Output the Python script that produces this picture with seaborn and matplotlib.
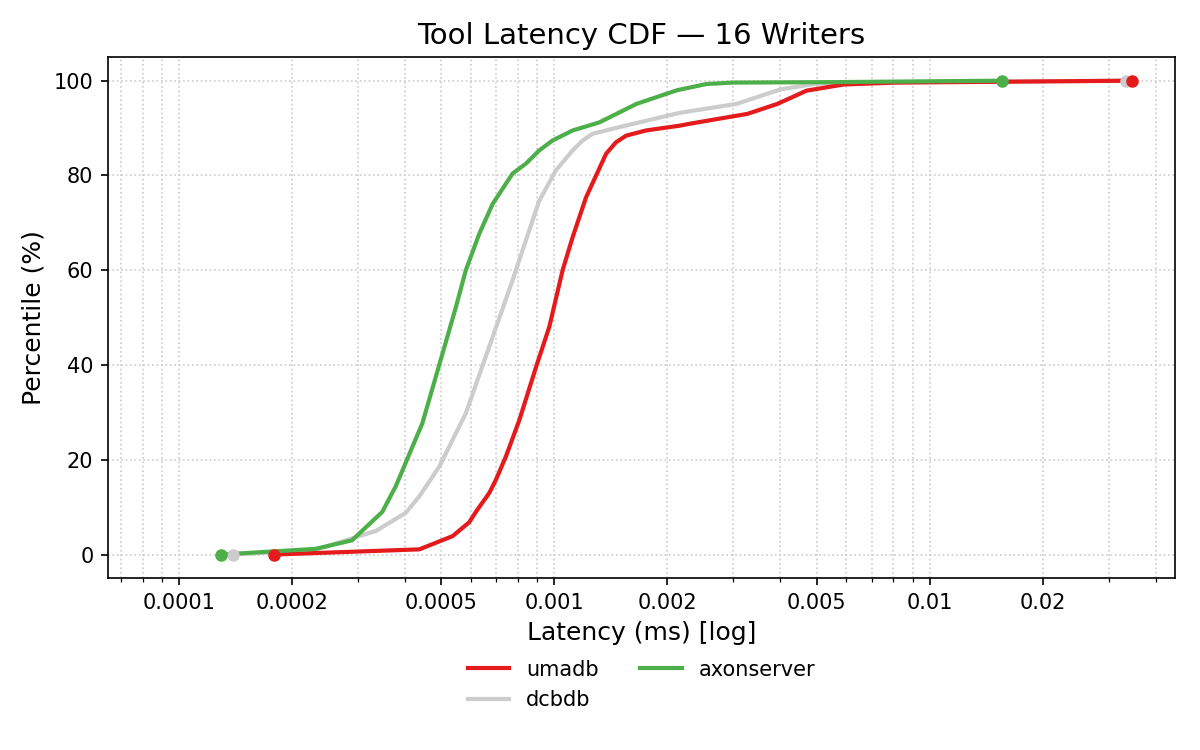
import numpy as np
import pandas as pd
import seaborn as sns
import matplotlib
matplotlib.use("Agg")
import matplotlib.pyplot as plt
from matplotlib.ticker import FixedLocator, FixedFormatter, LogLocator, NullFormatter
from matplotlib.lines import Line2D

# latency (ms) vs percentile
umadb_ms = [0.000179, 0.000437, 0.000536, 0.000593, 0.000619, 0.000671, 0.000699,
            0.000743, 0.000807, 0.000894, 0.00097, 0.001052, 0.001119, 0.001215,
            0.001374, 0.00146, 0.001553, 0.001756, 0.002154, 0.002328, 0.00327,
            0.003927, 0.0047, 0.0059, 0.00811, 0.0346]
umadb_pct = [0, 1.1, 3.9, 6.8, 9.1, 13, 15.8, 20.7, 28.4, 39.6, 48.1, 60, 67, 75.4,
             84.6, 87.0, 88.4, 89.5, 90.5, 91.0, 93.0, 95.1, 97.9, 99.2, 99.6, 100]

dcbdb_ms = [0.0001393, 0.000231, 0.000256, 0.000335, 0.000402, 0.000437, 0.000494,
            0.000581, 0.000671, 0.000774, 0.00084, 0.000912, 0.00101, 0.001119,
            0.00119, 0.001265, 0.00149, 0.002154, 0.003057, 0.004018, 0.004935,
            0.0059, 0.0333]
dcbdb_pct = [0, 1.0, 2.1, 5.0, 8.8, 12.3, 18.6, 29.8, 43.9, 57.9, 66.3, 74.7, 81.1,
             85.3, 87.4, 88.8, 90.2, 93.2, 95.1, 98.2, 99.3, 99.6, 100]

axon_ms = [0.0001294, 0.000231, 0.000289, 0.000348, 0.000378, 0.000445, 0.000504,
           0.000547, 0.000581, 0.000631, 0.000685, 0.000774, 0.00084, 0.000912,
           0.00099, 0.001119, 0.001318, 0.001655, 0.002126, 0.002543, 0.002983,
           0.0056, 0.0156]
axon_pct = [0, 1.2, 3.0, 9.0, 14.4, 27.7, 42.5, 52.3, 60, 67.7, 74, 80.4, 82.5,
            85.3, 87.4, 89.5, 91.2, 95.1, 98.0, 99.3, 99.6, 99.7, 100]

tools = ["umadb", "dcbdb", "axonserver"]
colors = {"umadb": "#e41a1c", "dcbdb": "#cccccc", "axonserver": "#4daf4a"}
draw_order = ["dcbdb", "umadb", "axonserver"]

tick_vals = [0.0001, 0.0002, 0.0005, 0.001, 0.002, 0.005, 0.01, 0.02]
tick_labels = ["0.0001", "0.0002", "0.0005", "0.001", "0.002", "0.005", "0.01", "0.02"]

df = pd.concat([
    pd.DataFrame({"tool": "umadb", "ms": umadb_ms, "pct": umadb_pct}),
    pd.DataFrame({"tool": "dcbdb", "ms": dcbdb_ms, "pct": dcbdb_pct}),
    pd.DataFrame({"tool": "axonserver", "ms": axon_ms, "pct": axon_pct}),
], ignore_index=True)

fig, ax = plt.subplots(figsize=(8, 5), dpi=150)
fig.subplots_adjust(left=0.09, right=0.979, top=0.924, bottom=0.229)

for t in draw_order:
    d = df[df.tool == t]
    sns.lineplot(data=d, x="ms", y="pct", color=colors[t], lw=2.0, ax=ax,
                 sort=False, estimator=None)
    ends = d.iloc[[0, -1]]
    ax.plot(ends.ms, ends.pct, "o", color=colors[t], ms=5, zorder=3)

ax.set_xscale("log")
ax.set_xlim(df.ms.min() * 0.5, df.ms.max() * 1.3)
ax.set_ylim(-5, 105)
ax.xaxis.set_major_locator(FixedLocator(tick_vals))
ax.xaxis.set_major_formatter(FixedFormatter(tick_labels))
ax.xaxis.set_minor_locator(LogLocator(base=10, subs=np.arange(2, 10)))
ax.xaxis.set_minor_formatter(NullFormatter())
ax.tick_params(labelsize=10)
ax.grid(True, which="both", linestyle=":", color="#cccccc", lw=0.8)

ax.set_title("Tool Latency CDF \u2014 16 Writers", fontsize=14)
ax.set_xlabel("Latency (ms) [log]", fontsize=12)
ax.set_ylabel("Percentile (%)", fontsize=12)

handles = [Line2D([], [], color=colors[t], lw=2.0) for t in tools]
ax.legend(handles, tools, loc="upper center", bbox_to_anchor=(0.5, -0.12),
          ncol=2, frameon=False, fontsize=10)

fig.savefig("out.png")
